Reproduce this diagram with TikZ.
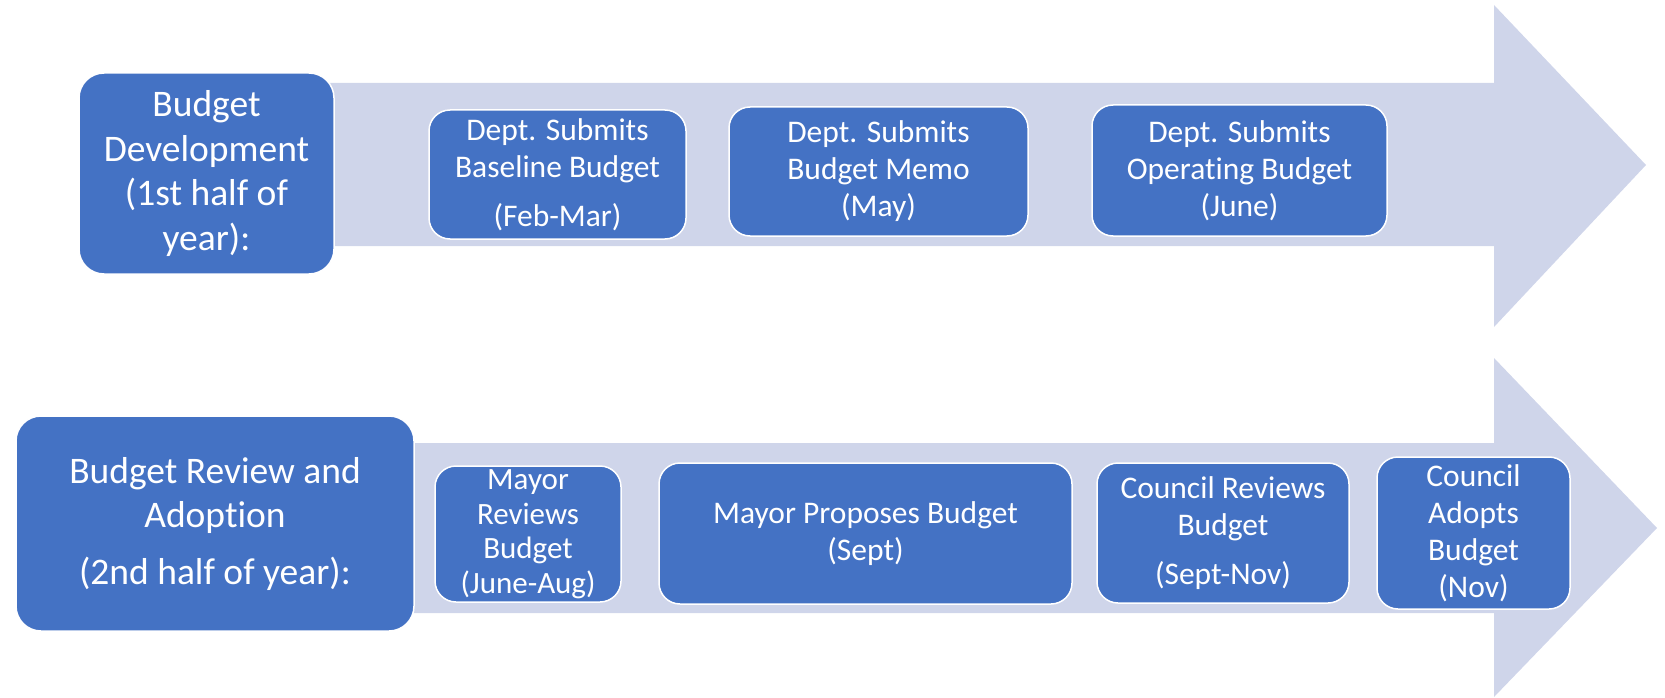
\documentclass[tikz,border=0pt]{standalone}
\usepackage{fontspec}
\setmainfont[Ligatures={NoCommon}]{Carlito}
\definecolor{boxblue}{HTML}{4472C4}
\definecolor{arrowfill}{HTML}{CFD5EA}
\begin{document}
\begin{tikzpicture}[x=1pt,y=-1pt,
  stagebox/.style={rectangle, rounded corners=25pt, fill=boxblue, draw=white,
    line width=1.5pt, text=white, align=center, inner sep=0pt,
    font=\fontsize{37.5}{44.5}\selectfont},
  stepbox/.style={rectangle, rounded corners=21pt, fill=boxblue, draw=white,
    line width=1.5pt, text=white, align=center, inner sep=0pt,
    font=\fontsize{31.5}{37}\selectfont},
  bigarrow/.style={fill=arrowfill}
]
\useasboundingbox (0,0) rectangle (1665,698);

% Timeline arrows
\fill[bigarrow] (320,83) -- (1494,83) -- (1494,5) -- (1646,165)
  -- (1494,327) -- (1494,246) -- (320,246) -- cycle;
\fill[bigarrow] (400,443) -- (1494,443) -- (1494,358) -- (1657,528)
  -- (1494,697) -- (1494,613) -- (400,613) -- cycle;

% First half of the year
\node[stagebox, minimum width=255pt, minimum height=201pt] (dev) at (206.5,173.5)
  {Budget\\Development\\(1st half of\\year):};
\node[stepbox, minimum width=257pt, minimum height=129pt] (base) at (557.5,174.5)
  {Dept. Submits\\Baseline Budget\\[12pt](Feb-Mar)};
\node[stepbox, minimum width=299pt, minimum height=129pt] (memo) at (878.5,171.5)
  {Dept. Submits\\Budget Memo\\(May)};
\node[stepbox, minimum width=295pt, minimum height=131pt] (oper) at (1239.5,170.5)
  {Dept. Submits\\Operating Budget\\(June)};

% Second half of the year
\node[stagebox, minimum width=398pt, minimum height=215pt] (review) at (215,523.5)
  {Budget Review and\\Adoption\\[12pt](2nd half of year):};
\node[stepbox, minimum width=186pt, minimum height=136pt,
  font=\fontsize{31}{34.5}\selectfont] (mrev) at (528,534)
  {Mayor\\Reviews\\Budget\\(June-Aug)};
\node[stepbox, minimum width=413pt, minimum height=141pt] (mprop) at (865.5,533.5)
  {Mayor Proposes Budget\\(Sept)};
\node[stepbox, minimum width=252pt, minimum height=140pt] (crev) at (1223,533)
  {Council Reviews\\Budget\\[12pt](Sept-Nov)};
\node[stepbox, minimum width=193pt, minimum height=152pt] (cadopt) at (1473.5,533)
  {Council\\Adopts\\Budget\\(Nov)};
\end{tikzpicture}
\end{document}
